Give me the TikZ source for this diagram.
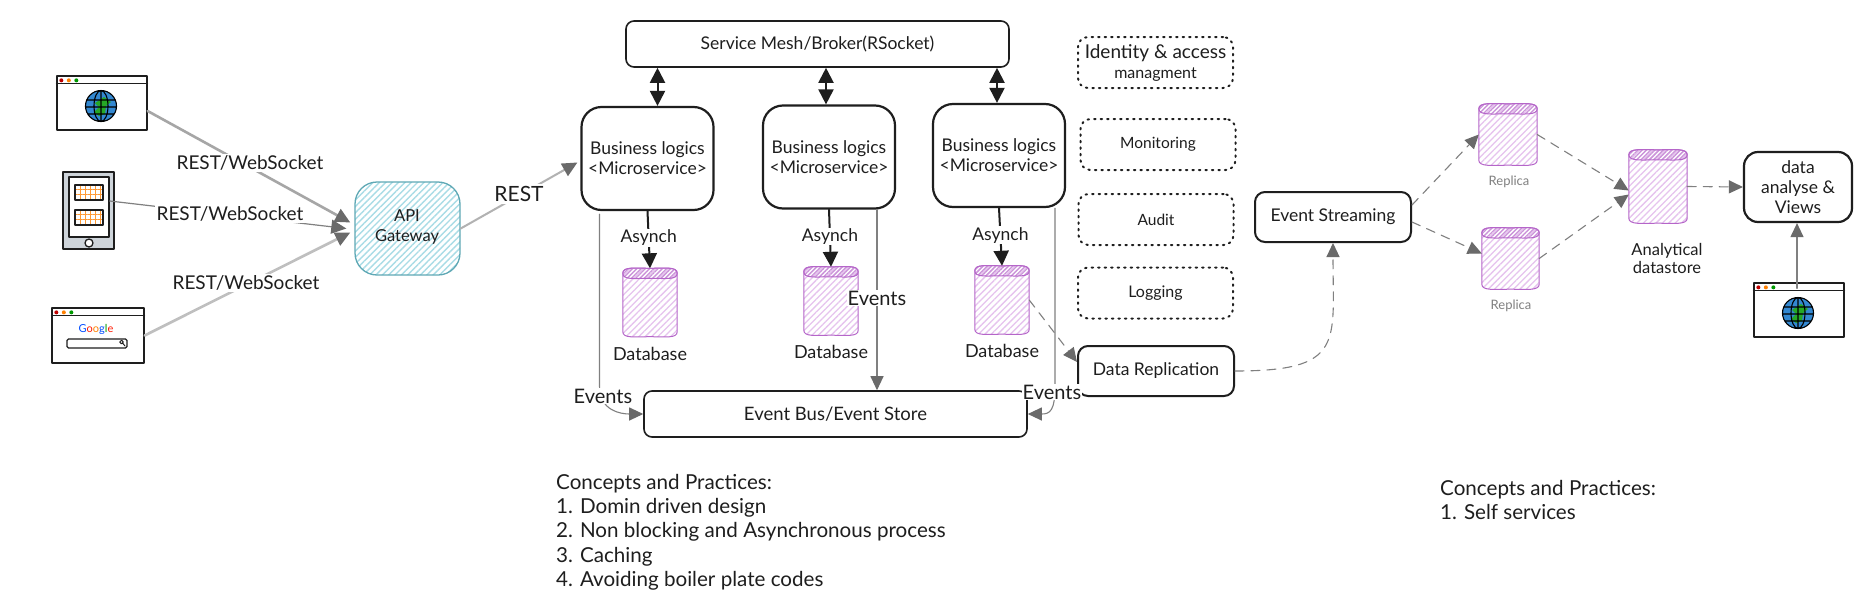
\documentclass[tikz,border=0pt]{standalone}
\usepackage{fontspec}
\setmainfont{Lato}
\usetikzlibrary{arrows.meta,patterns.meta,calc}
\definecolor{ink}{HTML}{1E1E1E}
\definecolor{tealline}{HTML}{5FA8B5}
\definecolor{tealhatch}{HTML}{A9DCE6}
\definecolor{purpline}{HTML}{B565C9}
\definecolor{purphatch}{HTML}{E6C3EE}
\definecolor{tipgray}{HTML}{6A6A6A}
\definecolor{tabgray}{HTML}{CED4DA}
\newcommand{\fsz}[1]{\fontsize{#1}{20}\selectfont}
\tikzset{
	txt/.style={font=\fsz{17.5},text=ink,align=center,inner sep=1pt},
	lbl/.style={txt,fill=white,inner sep=2pt},
	capt/.style={txt,font=\fontsize{20.6}{24.3}\selectfont,align=left,anchor=north west},
	sbox/.style={txt,draw=ink,line width=1.6pt,rounded corners=8pt,minimum width=#1,inner sep=0pt},
	bizbox/.style={sbox=132pt,line width=2.2pt,rounded corners=20pt,minimum height=103pt},
	opsbox/.style={sbox=155pt,line width=2pt,dash pattern=on 1.5pt off 5pt,minimum height=51pt,rounded corners=10pt},
	winbox/.style={draw=ink,line width=1.3pt,fill=white,inner sep=0pt,minimum width=#1},
	dbase/.style={inner sep=0pt,minimum width=#1},
	dbbody/.style={draw=purpline,line width=1pt,pattern={Lines[angle=45,distance=4.5pt,line width=1.3pt]},pattern color=purphatch},
	dbtop/.style={draw=purpline,line width=1pt,pattern={Lines[angle=45,distance=3pt,line width=1.3pt]},pattern color=purpline!70},
	rest/.style={draw=gray!70,line width=2.6pt,-{Triangle[length=15pt,width=14pt,color=tipgray]}},
	call/.style={draw=ink,line width=2pt,-{Triangle[length=15pt,width=15pt]}},
	sync/.style={call,{Triangle[length=15pt,width=15pt]}-{Triangle[length=15pt,width=15pt]}},
	bus/.style={draw=gray,line width=1.1pt,-{Triangle[length=14pt,width=13pt,color=tipgray]}},
	dash line/.style={bus,dash pattern=on 9pt off 7pt},
	globe/.pic={
		\fill[fill=cyan!60!blue!85] (0,0) circle (15.5);
		\fill[green!60!black!85] (-6,-3) -- (3,-9) -- (10,-4) -- (5,0) -- (4,8) -- (-2,10) -- (-7,6) -- (-2,1) -- cycle;
		\draw[black,line width=1.1pt] (0,0) circle (15.5) (0,0) ellipse (7 and 15.5) (0,-15.5) -- (0,15.5)
			(-14,-6) -- (14,-6) (-15.5,1) -- (15.5,1) (-13,8) -- (13,8);
	}
}
% title bar of a window
\newcommand{\winbar}[1]{
	\draw[ink,line width=1pt] ([yshift=-8pt]#1.north west) -- ([yshift=-8pt]#1.north east);
	\fill[red!75!black] ([xshift=5pt,yshift=-5pt]#1.north west) circle (2);
	\fill[orange] ([xshift=12.5pt,yshift=-5pt]#1.north west) circle (2);
	\fill[green!60!black] ([xshift=20pt,yshift=-5pt]#1.north west) circle (2);
}
\begin{document}
\begin{tikzpicture}[x=1pt,y=-1pt,line join=round,line cap=round]
	\fill[white] (0,0) rectangle (1874,600);
	\useasboundingbox (0,0) rectangle (1874,600);
	% clients
	\node[winbox=90pt,minimum height=54pt] (brweb) at (102,103) {};
	\winbar{brweb}
	\pic at (101,106) {globe};
	\node[winbox=51pt,minimum height=77pt,fill=tabgray] (tablet) at (88.5,210.5) {};
	\node[winbox=40pt,minimum height=60pt] (tabscreen) at (89,207) {};
	\node[winbox=28pt,minimum height=15pt,pattern={Hatch[distance=5pt,line width=1pt]},pattern color=orange!80] (tabone) at (89,192.5) {};
	\node[winbox=28pt,minimum height=15pt,pattern={Hatch[distance=5pt,line width=1pt]},pattern color=orange!80] (tabtwo) at (89,217.5) {};
	\node[winbox=8pt,circle] (tabbutton) at (89,243) {};
	\node[winbox=92pt,minimum height=55pt] (brgoogle) at (98,335.5) {};
	\winbar{brgoogle}
	\node[txt,font=\fsz{11}] (google) at (96,329) {\textcolor{blue!70!cyan}{G}\textcolor{red!80!orange}{o}\textcolor{orange}{o}\textcolor{blue!70!cyan}{g}\textcolor{green!60!black}{l}\textcolor{red!80!orange}{e}};
	\node[winbox=60pt,minimum height=9pt,rounded corners=1.5pt] (gsearch) at (97,343.5) {};
	\draw[ink,line width=1pt] (121.5,342) circle (1.8) (123,343.5) -- (125,346);
	\node[draw=tealline,line width=1.3pt,rounded corners=22pt,minimum width=105pt,minimum height=93pt,
		pattern={Lines[angle=45,distance=4.5pt,line width=1.4pt]},pattern color=tealhatch] (gateway) at (407.5,228.5) {};
	\node[txt,font=\fsz{16.5}] (gatewaytxt) at (407,227) {API\\Gateway};
	% services
	\node[sbox=383pt,minimum height=46pt] (mesh) at (817.5,44) {Service Mesh/Broker(RSocket)};
	\foreach \n/\x/\y in {1/647.5/158.5,2/829/157,3/999/155.5}
		\node[bizbox] (biz\n) at (\x,\y) {Business logics\\<Microservice>};
	\node[sbox=383pt,minimum height=46pt,font=\fsz{18.5}] (bus) at (835.5,414) {Event Bus/Event Store};
	\foreach \n/\x/\y in {1/650/302.5,2/831/301,3/1002/300}{
		\node[dbase=54pt,minimum height=68pt] (db\n) at (\x,\y) {};
		\node[txt,font=\fsz{18}] (dbtxt\n) at (\x,\y+51) {Database};
	}
	% side concerns
	\node[opsbox,font=\fsz{15.5}] (monitoring) at (1158,144.5) {Monitoring};
	\node[opsbox,font=\fsz{15.5}] (audit) at (1156,219.5) {Audit};
	\node[opsbox,font=\fsz{16}] (logging) at (1155.5,293) {Logging};
	\node[opsbox,font=\fsz{19}] (identity) at (1155.5,62.5) {Identity \& access\\{\fsz{16}managment}};
	\node[sbox=156pt,minimum height=50pt,rounded corners=10pt,line width=2pt] (datarep) at (1156,371) {Data Replication};
	\node[sbox=156pt,minimum height=50pt,rounded corners=10pt,line width=2pt] (evstream) at (1333,217) {Event Streaming};
	% analytics
	\node[dbase=58pt,minimum height=61pt] (rep1) at (1508,134.5) {};
	\node[dbase=57pt,minimum height=61pt] (rep2) at (1510.5,258.5) {};
	\node[dbase=58pt,minimum height=73pt] (store) at (1658,186.5) {};
	\foreach \n in {db1,db2,db3,rep1,rep2,store}{
		\draw[dbbody] ([yshift=-5pt]\n.north west) -- ([yshift=5pt]\n.south west)
			.. controls +(0,6.9) and +(-15,0) .. (\n.south) .. controls +(15,0) and +(0,6.9) .. ([yshift=5pt]\n.south east)
			-- ([yshift=-5pt]\n.north east) .. controls +(0,-6.9) and +(15,0) .. (\n.north) .. controls +(-15,0) and +(0,-6.9) .. cycle;
		\draw[dbtop] ([yshift=-5pt]\n.north west) .. controls +(0,-6.9) and +(-15,0) .. (\n.north) .. controls +(15,0) and +(0,-6.9) .. ([yshift=-5pt]\n.north east)
			.. controls +(0,6.9) and +(15,0) .. ([yshift=-10pt]\n.north) .. controls +(-15,0) and +(0,6.9) .. cycle;
	}
	\node[txt,text=gray,font=\fsz{13}] (reptxt1) at (1509,182) {Replica};
	\node[txt,text=gray,font=\fsz{13}] (reptxt2) at (1511,306) {Replica};
	\node[txt,font=\fontsize{16.5}{18}\selectfont] (storetxt) at (1667,258) {Analytical\\datastore};
	\node[sbox=108pt,minimum height=70pt,line width=2.2pt,rounded corners=14pt] (views) at (1798,187) {data\\analyse \&\\Views};
	\node[winbox=90pt,minimum height=54pt] (brview) at (1799,310) {};
	\winbar{brview}
	\pic at (1798,313) {globe};
	% connectors
	\draw[rest] ([yshift=-8pt]brweb.east) -- ([yshift=6pt,xshift=-4pt]gateway.west);
	\draw[rest,line width=1.2pt,draw=gray] ([yshift=6pt]tabscreen.east) -- ([xshift=-8pt]gateway.west);
	\draw[rest,draw=gray!50] (brgoogle.east) -- ([yshift=-4pt,xshift=-4pt]gateway.west);
	\draw[rest,line width=2pt,draw=gray!60] (gateway.east) -- ([yshift=-4pt,xshift=-3pt]biz1.west);
	\foreach \n/\s in {1/10pt,2/-3pt,3/-2pt}{
		\draw[sync] ([xshift=\s]biz\n.north) -- ([xshift=\s]biz\n.north |- mesh.south);
		\draw[call] (biz\n.south) -- (db\n.north);
		\node[lbl,inner sep=1pt] (asynch\n) at ($(biz\n.south)!0.47!(db\n.north)$) {Asynch};
	}
	\draw[bus] ([xshift=-48pt,yshift=-3pt]biz1.south) -- ++(0,172) .. controls +(0,25) and +(-22,0) .. (bus.west);
	\draw[bus] ([xshift=48pt]biz2.south) -- ([xshift=48pt]biz2.south |- bus.north);
	\draw[bus] ([xshift=56pt]biz3.south) -- ++(0,178) .. controls +(0,25) and +(22,0) .. (bus.east);
	\node[lbl,inner sep=1pt,font=\fsz{20}] (eventsa) at (603,396) {Events};
	\node[lbl,inner sep=1pt,font=\fsz{20}] (eventsb) at (877,298) {Events};
	\node[lbl,inner sep=1pt,font=\fsz{20}] (eventsc) at (1052,392) {Events};
	\draw[dash line] (db3.east) -- ([yshift=9pt]datarep.west);
	\draw[dash line] (datarep.east) .. controls +(110,0) and +(0,100) .. (evstream.south);
	\draw[dash line] ([yshift=12pt]evstream.east) -- (rep1.west);
	\draw[dash line] ([yshift=-5pt]evstream.east) -- ([yshift=5pt]rep2.west);
	\draw[dash line] (rep1.east) -- ([yshift=-4pt]store.west);
	\draw[dash line] (rep2.east) -- ([yshift=-8pt]store.west);
	\draw[dash line] (store.east) -- (views.west);
	\draw[bus] ([xshift=-2pt,yshift=-6pt]brview.north) -- ([xshift=-1pt]views.south);
	\node[lbl,font=\fsz{19}] (resta) at (250,163) {REST/WebSocket};
	\node[lbl,font=\fsz{19}] (restb) at (230,214) {REST/WebSocket};
	\node[lbl,font=\fsz{19}] (restc) at (246,283) {REST/WebSocket};
	\node[lbl,font=\fsz{21}] (restd) at (519,194) {REST};
	% notes
	\node[capt] (notesa) at (555,473) {Concepts and Practices:\\1. Domin driven design\\2. Non blocking and Asynchronous process\\3. Caching\\4. Avoiding boiler plate codes};
	\node[capt] (notesb) at (1439,479) {Concepts and Practices:\\1. Self services};
\end{tikzpicture}
\end{document}
